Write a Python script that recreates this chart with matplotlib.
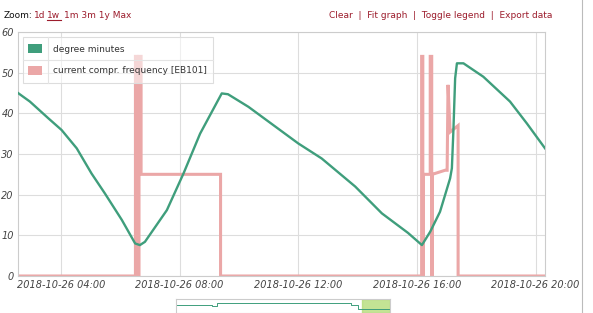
import numpy as np
import matplotlib.pyplot as plt
from matplotlib.patches import Rectangle
from matplotlib.lines import Line2D

# time in hours of 2018-10-26
green_t = [2.55, 2.95, 3.57, 4.02, 4.53, 5.03, 5.48, 6.05, 6.50, 6.66, 6.83,
           7.57, 8.13, 8.69, 9.42, 9.63, 10.32, 12.0, 12.79, 13.92, 14.82,
           15.70, 16.17, 16.45, 16.78, 17.12, 17.18, 17.23, 17.29, 17.35,
           17.57, 18.24, 19.14, 19.71, 20.32]
green_v = [45.0, 42.9, 38.8, 35.9, 31.4, 25.2, 20.3, 13.8, 8.0, 7.6, 8.4,
           16.2, 25.2, 35.0, 44.9, 44.7, 41.6, 32.6, 28.9, 22.0, 15.4,
           10.6, 7.6, 10.9, 15.8, 24.0, 26.5, 35.5, 48.6, 52.3,
           52.3, 49.0, 42.9, 37.5, 31.4]

pink_t = [2.55, 6.51, 6.51, 6.56, 6.56, 6.63, 6.63, 6.70, 6.70, 9.38, 9.38,
          16.16, 16.16, 16.20, 16.20, 16.22, 16.22, 16.45, 16.45, 16.50, 16.50,
          16.52, 16.52, 16.95, 17.02, 17.05, 17.12, 17.39, 17.39, 20.32]
pink_v = [0, 0, 54, 54, 0, 0, 54, 54, 25, 25, 0,
          0, 54, 54, 0, 0, 25, 25, 54, 54, 0,
          0, 25, 26, 26, 47, 35.4, 37, 0, 0]

x_ticks = [4, 8, 12, 16, 20]
x_labels = ['2018-10-26 04:00', '2018-10-26 08:00', '2018-10-26 12:00',
            '2018-10-26 16:00', '2018-10-26 20:00']
y_ticks = [0, 10, 20, 30, 40, 50, 60]

# navigator overview (relative position 0..1)
nav_t = [0.0, 0.17, 0.17, 0.19, 0.19, 0.82, 0.82, 0.85, 0.85, 1.0]
nav_v = [0.6, 0.6, 0.5, 0.5, 0.7, 0.7, 0.55, 0.55, 0.3, 0.3]

GREEN = '#3f9e7c'
PINK = '#eba7a7'
LINK = '#9c1c2c'
GRID = '#dddddd'

fig = plt.figure(figsize=(5.93, 3.13), dpi=100)
ax = fig.add_axes([18 / 593, 37 / 313, 527 / 593, 244 / 313])

ax.plot(pink_t, pink_v, color=PINK, lw=2.2, solid_joinstyle='miter', zorder=2)
ax.plot(green_t, green_v, color=GREEN, lw=1.7, zorder=3)

ax.set_xlim(2.55, 20.32)
ax.set_ylim(0, 60)
ax.set_xticks(x_ticks)
ax.set_xticklabels(x_labels, fontstyle='italic', fontsize=7, color='#444444')
ax.set_yticks(y_ticks)
ax.set_yticklabels([str(v) for v in y_ticks], fontstyle='italic', fontsize=7, color='#444444')
ax.tick_params(length=0, pad=3)
ax.grid(True, color=GRID, lw=0.8)
ax.set_axisbelow(True)
for s in ax.spines.values():
    s.set_color('#cccccc')
    s.set_linewidth(0.8)

# legend box drawn as a small table, semi-transparent
W, H = 593, 313
def fx(x):
    return x / W
def fy(y):
    return 1 - y / H

fig.patches.append(Rectangle((fx(23), fy(83)), fx(190), 46 / H, transform=fig.transFigure,
                             facecolor='white', alpha=0.55, edgecolor='none', zorder=5))
fig.patches.append(Rectangle((fx(23), fy(83)), fx(190), 46 / H, transform=fig.transFigure,
                             facecolor='none', edgecolor='#dddddd', lw=0.8, zorder=5))
fig.lines.append(Line2D([fx(23), fx(213)], [fy(60), fy(60)], transform=fig.transFigure,
                        color='#e4e4e4', lw=0.8, zorder=6))
fig.lines.append(Line2D([fx(48), fx(48)], [fy(37), fy(83)], transform=fig.transFigure,
                        color='#e4e4e4', lw=0.8, zorder=6))
for yy, col, lab in [(49, GREEN, 'degree minutes'),
                     (71, PINK, 'current compr. frequency [EB101]')]:
    fig.patches.append(Rectangle((fx(28), fy(yy + 4)), fx(14), 9 / H, transform=fig.transFigure,
                                 facecolor=col, edgecolor='none', zorder=6))
    fig.text(fx(53), fy(yy), lab, fontsize=6.5, va='center', color='#333333', zorder=7)

# header
fig.text(fx(4), fy(15), 'Zoom:', fontsize=6.5, va='center', color='#111111')
fig.text(fx(34), fy(15), '1d', fontsize=6.5, va='center', color=LINK)
fig.text(fx(47), fy(15), '1w', fontsize=6.5, va='center', color=LINK)
fig.lines.append(Line2D([fx(47), fx(61)], [fy(20), fy(20)], transform=fig.transFigure,
                        color=LINK, lw=0.8))
fig.text(fx(64), fy(15), '1m 3m 1y Max', fontsize=6.5, va='center', color=LINK)
fig.text(fx(552), fy(15), 'Clear  |  Fit graph  |  Toggle legend  |  Export data',
         fontsize=6.5, va='center', ha='right', color=LINK)

# right frame line
fig.lines.append(Line2D([fx(582), fx(582)], [0, 1], transform=fig.transFigure,
                        color='#bbbbbb', lw=0.8))

# navigator
nav = fig.add_axes([fx(176), 0, fx(214), 14 / H])
nav.plot(nav_t, nav_v, color=GREEN, lw=0.7)
nav.axvspan(0.87, 1.0, color='#b5dc7a', alpha=0.8)
nav.set_xlim(0, 1)
nav.set_ylim(0, 1)
nav.set_xticks([])
nav.set_yticks([])
for s in nav.spines.values():
    s.set_color('#cccccc')
    s.set_linewidth(0.8)

fig.savefig('out.png', dpi=100)
